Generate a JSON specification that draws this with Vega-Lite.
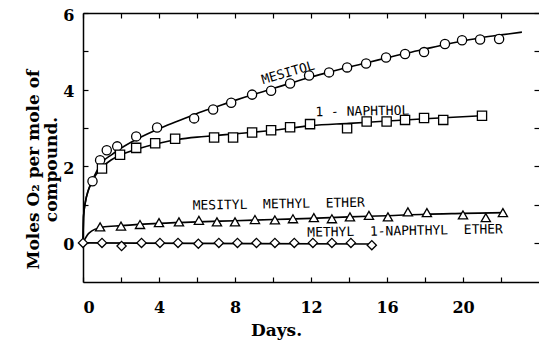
{
  "$schema": "https://vega.github.io/schema/vega-lite/v6.json",
  "width": 456,
  "height": 269,
  "autosize": "none",
  "padding": {"left": 83, "top": 13, "right": 0, "bottom": 59},
  "background": "white",
  "config": {
    "view": {"stroke": null},
    "axis": {
      "grid": false,
      "domainColor": "black",
      "domainWidth": 1.5,
      "tickColor": "black",
      "tickWidth": 1.2,
      "labelColor": "black",
      "titleColor": "black",
      "labelFont": "DejaVu Serif",
      "labelFontWeight": "bold",
      "labelFontSize": 16,
      "titleFont": "DejaVu Serif",
      "titleFontWeight": "bold",
      "titleFontSize": 17
    }
  },
  "datasets": {
    "points": [
      {"series": "Mesitol", "day": 0.5, "value": 1.61},
      {"series": "Mesitol", "day": 0.9, "value": 2.16},
      {"series": "Mesitol", "day": 1.25, "value": 2.42},
      {"series": "Mesitol", "day": 1.8, "value": 2.52},
      {"series": "Mesitol", "day": 2.8, "value": 2.78},
      {"series": "Mesitol", "day": 3.9, "value": 3.01},
      {"series": "Mesitol", "day": 5.85, "value": 3.25},
      {"series": "Mesitol", "day": 6.85, "value": 3.48},
      {"series": "Mesitol", "day": 7.8, "value": 3.66},
      {"series": "Mesitol", "day": 8.9, "value": 3.87},
      {"series": "Mesitol", "day": 9.9, "value": 3.97},
      {"series": "Mesitol", "day": 10.9, "value": 4.16},
      {"series": "Mesitol", "day": 11.9, "value": 4.37},
      {"series": "Mesitol", "day": 12.95, "value": 4.45},
      {"series": "Mesitol", "day": 13.9, "value": 4.58},
      {"series": "Mesitol", "day": 14.9, "value": 4.68},
      {"series": "Mesitol", "day": 15.95, "value": 4.84},
      {"series": "Mesitol", "day": 16.95, "value": 4.93},
      {"series": "Mesitol", "day": 17.95, "value": 4.98},
      {"series": "Mesitol", "day": 19.05, "value": 5.19},
      {"series": "Mesitol", "day": 19.95, "value": 5.29},
      {"series": "Mesitol", "day": 20.9, "value": 5.31},
      {"series": "Mesitol", "day": 21.9, "value": 5.32},
      {"series": "1-Naphthol", "day": 1.0, "value": 1.94},
      {"series": "1-Naphthol", "day": 1.95, "value": 2.3},
      {"series": "1-Naphthol", "day": 2.8, "value": 2.48},
      {"series": "1-Naphthol", "day": 3.8, "value": 2.6},
      {"series": "1-Naphthol", "day": 4.85, "value": 2.72},
      {"series": "1-Naphthol", "day": 6.9, "value": 2.75},
      {"series": "1-Naphthol", "day": 7.9, "value": 2.75},
      {"series": "1-Naphthol", "day": 8.9, "value": 2.88},
      {"series": "1-Naphthol", "day": 9.9, "value": 2.94},
      {"series": "1-Naphthol", "day": 10.9, "value": 3.02},
      {"series": "1-Naphthol", "day": 11.95, "value": 3.1},
      {"series": "1-Naphthol", "day": 13.9, "value": 2.99},
      {"series": "1-Naphthol", "day": 14.93, "value": 3.17},
      {"series": "1-Naphthol", "day": 15.98, "value": 3.17},
      {"series": "1-Naphthol", "day": 16.95, "value": 3.21},
      {"series": "1-Naphthol", "day": 17.95, "value": 3.26},
      {"series": "1-Naphthol", "day": 18.96, "value": 3.21},
      {"series": "1-Naphthol", "day": 21.0, "value": 3.32},
      {"series": "Mesityl methyl ether", "day": 0.9, "value": 0.42},
      {"series": "Mesityl methyl ether", "day": 2.0, "value": 0.44},
      {"series": "Mesityl methyl ether", "day": 3.0, "value": 0.48},
      {"series": "Mesityl methyl ether", "day": 4.0, "value": 0.53},
      {"series": "Mesityl methyl ether", "day": 5.05, "value": 0.55},
      {"series": "Mesityl methyl ether", "day": 6.1, "value": 0.59},
      {"series": "Mesityl methyl ether", "day": 7.05, "value": 0.55},
      {"series": "Mesityl methyl ether", "day": 8.0, "value": 0.55},
      {"series": "Mesityl methyl ether", "day": 9.05, "value": 0.61},
      {"series": "Mesityl methyl ether", "day": 10.1, "value": 0.6},
      {"series": "Mesityl methyl ether", "day": 11.05, "value": 0.63},
      {"series": "Mesityl methyl ether", "day": 12.15, "value": 0.66},
      {"series": "Mesityl methyl ether", "day": 13.1, "value": 0.63},
      {"series": "Mesityl methyl ether", "day": 14.05, "value": 0.68},
      {"series": "Mesityl methyl ether", "day": 15.05, "value": 0.72},
      {"series": "Mesityl methyl ether", "day": 16.05, "value": 0.68},
      {"series": "Mesityl methyl ether", "day": 17.1, "value": 0.81},
      {"series": "Mesityl methyl ether", "day": 18.1, "value": 0.79},
      {"series": "Mesityl methyl ether", "day": 20.0, "value": 0.73},
      {"series": "Mesityl methyl ether", "day": 21.2, "value": 0.66},
      {"series": "Mesityl methyl ether", "day": 22.1, "value": 0.79},
      {"series": "Methyl 1-naphthyl ether", "day": 0.0, "value": 0.0},
      {"series": "Methyl 1-naphthyl ether", "day": 1.0, "value": 0.0},
      {"series": "Methyl 1-naphthyl ether", "day": 2.03, "value": -0.08},
      {"series": "Methyl 1-naphthyl ether", "day": 3.08, "value": 0.0},
      {"series": "Methyl 1-naphthyl ether", "day": 4.05, "value": 0.0},
      {"series": "Methyl 1-naphthyl ether", "day": 5.0, "value": 0.0},
      {"series": "Methyl 1-naphthyl ether", "day": 6.07, "value": -0.02},
      {"series": "Methyl 1-naphthyl ether", "day": 7.15, "value": 0.0},
      {"series": "Methyl 1-naphthyl ether", "day": 8.13, "value": 0.0},
      {"series": "Methyl 1-naphthyl ether", "day": 9.13, "value": 0.0},
      {"series": "Methyl 1-naphthyl ether", "day": 10.1, "value": 0.0},
      {"series": "Methyl 1-naphthyl ether", "day": 11.12, "value": 0.0},
      {"series": "Methyl 1-naphthyl ether", "day": 12.1, "value": 0.0},
      {"series": "Methyl 1-naphthyl ether", "day": 13.1, "value": 0.0},
      {"series": "Methyl 1-naphthyl ether", "day": 14.1, "value": 0.0},
      {"series": "Methyl 1-naphthyl ether", "day": 15.2, "value": -0.06}
    ],
    "curves": [
      {"series": "Mesitol", "day": 0, "value": 0},
      {"series": "Mesitol", "day": 0.03, "value": 0.7},
      {"series": "Mesitol", "day": 0.12, "value": 1.05},
      {"series": "Mesitol", "day": 0.3, "value": 1.4},
      {"series": "Mesitol", "day": 0.6, "value": 1.75},
      {"series": "Mesitol", "day": 1, "value": 2.1},
      {"series": "Mesitol", "day": 1.5, "value": 2.3},
      {"series": "Mesitol", "day": 2, "value": 2.47},
      {"series": "Mesitol", "day": 3, "value": 2.75},
      {"series": "Mesitol", "day": 4, "value": 2.98},
      {"series": "Mesitol", "day": 5, "value": 3.18},
      {"series": "Mesitol", "day": 6, "value": 3.38},
      {"series": "Mesitol", "day": 7, "value": 3.55},
      {"series": "Mesitol", "day": 8, "value": 3.72},
      {"series": "Mesitol", "day": 9, "value": 3.88},
      {"series": "Mesitol", "day": 10, "value": 4.03},
      {"series": "Mesitol", "day": 11, "value": 4.18},
      {"series": "Mesitol", "day": 12, "value": 4.33},
      {"series": "Mesitol", "day": 13, "value": 4.46},
      {"series": "Mesitol", "day": 14, "value": 4.59},
      {"series": "Mesitol", "day": 15, "value": 4.71},
      {"series": "Mesitol", "day": 16, "value": 4.83},
      {"series": "Mesitol", "day": 17, "value": 4.95},
      {"series": "Mesitol", "day": 18, "value": 5.06},
      {"series": "Mesitol", "day": 19, "value": 5.17},
      {"series": "Mesitol", "day": 20, "value": 5.27},
      {"series": "Mesitol", "day": 21, "value": 5.36},
      {"series": "Mesitol", "day": 22, "value": 5.43},
      {"series": "Mesitol", "day": 23.1, "value": 5.5},
      {"series": "1-Naphthol", "day": 0, "value": 0},
      {"series": "1-Naphthol", "day": 0.03, "value": 0.7},
      {"series": "1-Naphthol", "day": 0.12, "value": 1.05},
      {"series": "1-Naphthol", "day": 0.5, "value": 1.62},
      {"series": "1-Naphthol", "day": 1, "value": 1.97},
      {"series": "1-Naphthol", "day": 1.5, "value": 2.17},
      {"series": "1-Naphthol", "day": 2, "value": 2.3},
      {"series": "1-Naphthol", "day": 3, "value": 2.47},
      {"series": "1-Naphthol", "day": 4, "value": 2.6},
      {"series": "1-Naphthol", "day": 5, "value": 2.7},
      {"series": "1-Naphthol", "day": 6, "value": 2.76},
      {"series": "1-Naphthol", "day": 7, "value": 2.8},
      {"series": "1-Naphthol", "day": 8, "value": 2.85},
      {"series": "1-Naphthol", "day": 9, "value": 2.89},
      {"series": "1-Naphthol", "day": 10, "value": 2.94},
      {"series": "1-Naphthol", "day": 11, "value": 3.0},
      {"series": "1-Naphthol", "day": 12, "value": 3.06},
      {"series": "1-Naphthol", "day": 14, "value": 3.12},
      {"series": "1-Naphthol", "day": 16, "value": 3.18},
      {"series": "1-Naphthol", "day": 18, "value": 3.24},
      {"series": "1-Naphthol", "day": 21, "value": 3.32},
      {"series": "Mesityl methyl ether", "day": 0, "value": 0},
      {"series": "Mesityl methyl ether", "day": 0.3, "value": 0.25},
      {"series": "Mesityl methyl ether", "day": 1, "value": 0.41},
      {"series": "Mesityl methyl ether", "day": 2, "value": 0.45},
      {"series": "Mesityl methyl ether", "day": 4, "value": 0.51},
      {"series": "Mesityl methyl ether", "day": 6, "value": 0.55},
      {"series": "Mesityl methyl ether", "day": 8, "value": 0.58},
      {"series": "Mesityl methyl ether", "day": 10, "value": 0.61},
      {"series": "Mesityl methyl ether", "day": 12, "value": 0.64},
      {"series": "Mesityl methyl ether", "day": 14, "value": 0.68},
      {"series": "Mesityl methyl ether", "day": 16, "value": 0.71},
      {"series": "Mesityl methyl ether", "day": 18, "value": 0.75},
      {"series": "Mesityl methyl ether", "day": 20, "value": 0.77},
      {"series": "Mesityl methyl ether", "day": 22.2, "value": 0.79},
      {"series": "Methyl 1-naphthyl ether", "day": 0, "value": 0},
      {"series": "Methyl 1-naphthyl ether", "day": 15.2, "value": -0.03}
    ],
    "labelsRot": [
      {"text": "MESITOL", "day": 10.8, "value": 4.44}
    ],
    "labelsFlat": [
      {"text": "1 - NAPHTHOL", "day": 14.7, "value": 3.43},
      {"text": "MESITYL\u00a0\u00a0METHYL\u00a0\u00a0ETHER", "day": 10.3, "value": 1.01},
      {"text": "METHYL\u00a0\u00a01-NAPHTHYL\u00a0\u00a0ETHER", "day": 16.95, "value": 0.31}
    ]
  },
  "layer": [
    {
      "data": {"name": "curves"},
      "mark": {"type": "line", "color": "black", "strokeWidth": 1.6, "interpolate": "monotone"},
      "encoding": {
        "x": {
          "field": "day", "type": "quantitative",
          "scale": {"domain": [0, 24], "nice": false, "zero": false},
          "axis": {
            "orient": "bottom", "title": "Days.",
            "values": [0, 2, 4, 6, 8, 10, 12, 14, 16, 18, 20, 22],
            "labelExpr": "datum.value % 4 === 0 ? datum.label : ''",
            "tickSize": -5, "labelPadding": 22, "labelFlush": true,
            "titleX": 193, "titleY": 53, "titleAnchor": "middle", "titleBaseline": "alphabetic"
          }
        },
        "y": {
          "field": "value", "type": "quantitative",
          "scale": {"domain": [-1.02, 6], "nice": false, "zero": false},
          "axis": {
            "orient": "left",
            "title": ["Moles O₂ per mole of", "compound."],
            "values": [0, 1, 2, 3, 4, 5, 6],
            "labelExpr": "datum.value % 2 === 0 ? datum.label : ''",
            "tickSize": -5, "labelPadding": 14, "labelFlush": true, "labelFlushOffset": 0,
            "labelBaseline": "middle", "labelOffset": 2,
            "titleX": -50, "titleY": 156, "titleAnchor": "middle", "titleAngle": -90,
            "titleLineHeight": 18, "titleBaseline": "middle"
          }
        },
        "detail": {"field": "series"}
      }
    },
    {
      "data": {"name": "points"},
      "mark": {"type": "point", "filled": true, "fill": "white", "stroke": "black", "strokeWidth": 1.3, "size": 85, "opacity": 1},
      "encoding": {
        "x": {
          "field": "day", "type": "quantitative",
          "scale": {"domain": [0, 24], "nice": false, "zero": false},
          "axis": {"orient": "top", "title": null, "labels": false,
                   "values": [0, 2, 4, 6, 8, 10, 12, 14, 16, 18, 20, 22], "tickSize": -5}
        },
        "y": {
          "field": "value", "type": "quantitative",
          "scale": {"domain": [-1.02, 6], "nice": false, "zero": false},
          "axis": {"orient": "right", "title": null, "labels": false, "domain": false,
                   "values": [0, 1, 2, 3, 4, 5, 6], "tickSize": -5}
        },
        "shape": {
          "field": "series", "type": "nominal",
          "scale": {
            "domain": ["Mesitol", "1-Naphthol", "Mesityl methyl ether", "Methyl 1-naphthyl ether"],
            "range": ["circle", "square", "triangle-up", "diamond"]
          },
          "legend": null
        }
      }
    },
    {
      "data": {"name": "labelsRot"},
      "mark": {"type": "text", "font": "DejaVu Sans Mono", "fontSize": 13, "angle": -16, "color": "black"},
      "encoding": {
        "x": {"field": "day", "type": "quantitative", "axis": null},
        "y": {"field": "value", "type": "quantitative", "axis": null},
        "text": {"field": "text"}
      }
    },
    {
      "data": {"name": "labelsFlat"},
      "mark": {"type": "text", "font": "DejaVu Sans Mono", "fontSize": 13, "angle": -1, "color": "black"},
      "encoding": {
        "x": {"field": "day", "type": "quantitative", "axis": null},
        "y": {"field": "value", "type": "quantitative", "axis": null},
        "text": {"field": "text"}
      }
    }
  ],
  "resolve": {"axis": {"x": "independent", "y": "independent"}}
}
